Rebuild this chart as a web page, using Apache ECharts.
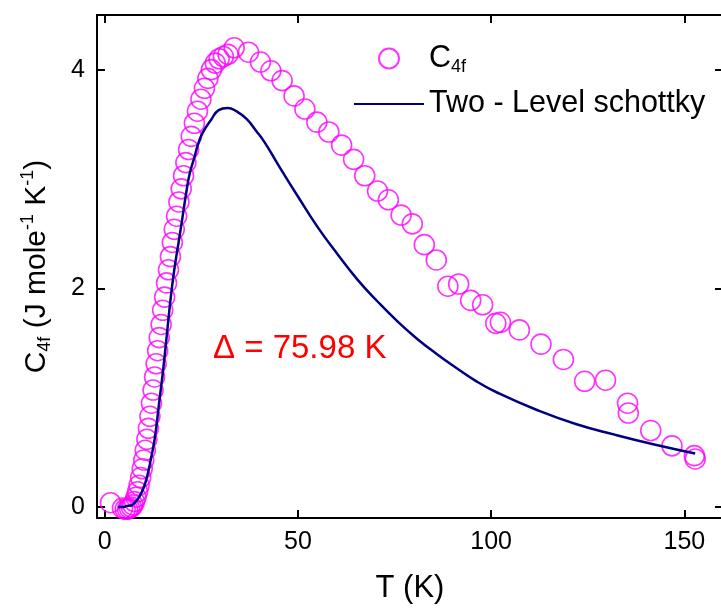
<!DOCTYPE html>
<html>
<head>
<meta charset="utf-8">
<script src="https://cdn.jsdelivr.net/npm/echarts@6/dist/echarts.min.js"></script>
<style>
  html, body { margin: 0; padding: 0; background: #fff; }
  #chart { width: 721px; height: 610px; }
</style>
</head>
<body>
<div id="chart"></div>
<script>
// C4f measured points (T in K, C in J mole-1 K-1)
const measT = [1.5, 4.6, 5.3, 5.9, 6.4, 6.9, 7.3, 7.7, 8.1, 8.5, 8.9, 9.3, 9.7, 10.1, 10.5,
  10.9, 11.3, 11.7, 12.1, 12.5, 12.9, 13.3, 13.7, 14.1, 14.6, 15.0, 15.5, 16.0, 16.5, 17.0,
  17.5, 18.0, 18.6, 19.2, 19.8, 20.4, 21.0, 21.7, 22.4, 23.2, 24.0, 24.9, 25.8, 26.7, 27.6,
  28.6, 29.6, 30.7, 31.9, 33.5, 37.2, 40.3, 43.0, 45.9, 49.0, 51.8, 54.9, 58.0, 61.3, 64.4,
  67.3, 70.6, 73.4, 76.7, 79.6, 82.7, 85.8, 88.8, 91.6, 94.7, 97.8, 101.2, 102.4, 107.3,
  112.9, 118.7, 124.2, 129.6, 135.3, 135.5, 141.3, 146.8, 152.6, 152.8];
const measC = [0.04, -0.01, -0.02, -0.02, -0.01, 0.0, 0.02, 0.05, 0.09, 0.14, 0.2, 0.27, 0.35, 0.43, 0.52,
  0.62, 0.72, 0.83, 0.95, 1.07, 1.19, 1.31, 1.43, 1.55, 1.67, 1.8, 1.92, 2.05, 2.17, 2.29,
  2.42, 2.54, 2.66, 2.79, 2.91, 3.03, 3.15, 3.27, 3.39, 3.51, 3.62, 3.73, 3.83, 3.92, 4.0,
  4.06, 4.1, 4.12, 4.14, 4.2, 4.16, 4.07, 3.99, 3.90, 3.76, 3.64, 3.52, 3.43, 3.31, 3.18,
  3.03, 2.89, 2.81, 2.67, 2.59, 2.40, 2.26, 2.02, 2.04, 1.89, 1.85, 1.68, 1.69, 1.62,
  1.49, 1.35, 1.15, 1.16, 0.95, 0.86, 0.70, 0.56, 0.47, 0.44];

// two-level schottky curve
const fitT = [3.5, 5, 5.6, 6.8, 8, 8.9, 10, 10.9, 12, 13, 14, 15.1, 16, 17.1, 18, 19.2, 20, 21.2,
  22, 23.3, 24, 25.3, 27.5, 29.5, 31.8, 34.1, 36.7, 39.2, 41.3, 44.9, 50, 55.1, 60.3, 65.4,
  70.6, 75.7, 80.8, 85.9, 91.1, 96.2, 101.4, 111.7, 121.9, 132.2, 142.5, 152.8];
const fitC = [0.0, 0.0, 0.01, 0.015, 0.05, 0.09, 0.17, 0.27, 0.45, 0.64, 0.93, 1.25, 1.55, 1.92,
  2.17, 2.44, 2.62, 2.90, 3.05, 3.21, 3.3, 3.42, 3.54, 3.63, 3.65, 3.62, 3.55, 3.44, 3.34,
  3.13, 2.84, 2.56, 2.31, 2.08, 1.88, 1.70, 1.54, 1.40, 1.27, 1.15, 1.05, 0.89, 0.76, 0.66,
  0.57, 0.49];

const xTicks = [0, 50, 100, 150];
const yTicks = [0, 2, 4];
const gapText = 'Δ = 75.98 K';

const FONT = 'Liberation Sans, Arial, sans-serif';
const chart = echarts.init(document.getElementById('chart'), null, { renderer: 'canvas' });

function boxAxis(pos, min, max, ticks, showLabel, extra) {
  return Object.assign({
    type: 'value',
    position: pos,
    min: min,
    max: max,
    axisLine: { show: true, onZero: false, lineStyle: { color: '#000', width: 2 } },
    axisTick: { show: true, inside: true, length: 8, customValues: ticks, lineStyle: { color: '#000', width: 2 } },
    axisLabel: { show: showLabel, customValues: ticks, color: '#000', fontSize: 25, fontFamily: FONT, margin: 12 },
    splitLine: { show: false }
  }, extra || {});
}

const option = {
  backgroundColor: '#fff',
  animation: false,
  grid: { left: 97, top: 15, right: -2, bottom: 92, containLabel: false, outerBoundsMode: 'none' },
  xAxis: [
    boxAxis('bottom', -2, 160, xTicks, true, {
      name: 'T (K)', nameLocation: 'middle', nameGap: 55,
      nameTextStyle: { color: '#000', fontSize: 31, fontFamily: FONT }
    }),
    boxAxis('top', -2, 160, xTicks, false)
  ],
  yAxis: [
    boxAxis('left', -0.1, 4.5, yTicks, true, {
      name: '{b|C}{s|4f}{b| (J mole}{p|-1}{b| K}{p|-1}{b|)}',
      nameLocation: 'middle', nameRotate: 90, nameGap: 43,
      nameTextStyle: {
        color: '#000', fontFamily: FONT,
        rich: {
          b: { fontSize: 30, fontFamily: FONT, color: '#000', lineHeight: 35 },
          s: { fontSize: 18, fontFamily: FONT, color: '#000', lineHeight: 18, verticalAlign: 'bottom' },
          p: { fontSize: 18, fontFamily: FONT, color: '#000', lineHeight: 18, verticalAlign: 'top' }
        }
      }
    }),
    boxAxis('right', -0.1, 4.5, yTicks, false)
  ],
  legend: {
    orient: 'vertical',
    left: 348,
    top: 38,
    itemWidth: 70,
    itemHeight: 20,
    itemGap: 12,
    data: [
      { name: 'C4f' },
      { name: 'Two - Level schottky', itemStyle: { opacity: 0 } }
    ],
    formatter: function (name) {
      return name === 'C4f' ? '{b|C}{s|4f}' : '{b|' + name + '}';
    },
    textStyle: {
      color: '#000', fontFamily: FONT,
      rich: {
        b: { fontSize: 30.5, fontFamily: FONT, color: '#000', lineHeight: 36 },
        s: { fontSize: 18, fontFamily: FONT, color: '#000', lineHeight: 18, verticalAlign: 'bottom' }
      }
    }
  },
  graphic: [{
    type: 'text',
    left: 213,
    top: 332,
    style: { text: gapText, fill: '#ff0000', font: '33px ' + FONT }
  }],
  series: [
    {
      name: 'C4f',
      type: 'scatter',
      symbol: 'circle',
      symbolSize: 20,
      itemStyle: { color: 'rgba(255,255,255,0)', borderColor: '#ff00ff', borderWidth: 1.6 },
      data: measT.map((t, i) => [t, measC[i]])
    },
    {
      name: 'Two - Level schottky',
      type: 'line',
      symbol: 'none',
      smooth: 0.5,
      lineStyle: { color: '#000080', width: 2.5 },
      itemStyle: { color: '#000080' },
      data: fitT.map((t, i) => [t, fitC[i]])
    }
  ]
};

chart.setOption(option);
</script>
</body>
</html>
